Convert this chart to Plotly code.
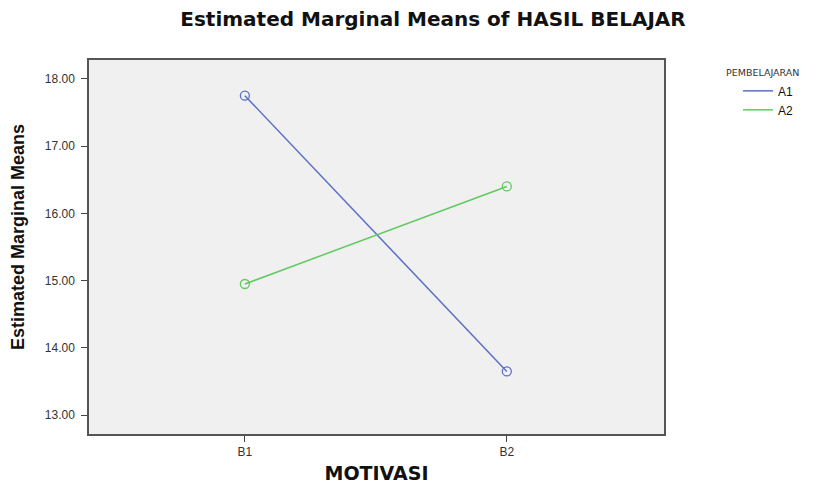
import plotly.graph_objects as go

categories = ["B1", "B2"]
a1_values = [17.75, 13.65]
a2_values = [14.95, 16.40]
y_ticks = [13, 14, 15, 16, 17, 18]
y_tick_labels = ["13.00", "14.00", "15.00", "16.00", "17.00", "18.00"]
series_names = ["A1", "A2"]
series_colors = ["#5a6fc6", "#5fca5f"]

x_pos = list(range(len(categories)))

# The page body has an 8px margin; the figure is sized to compensate.
W, H = 808, 476
L, R, T, B = 81, 152, 52, 50
plot_w = W - L - R
plot_h = H - T - B

fig = go.Figure()
for name, vals, col in zip(series_names, [a1_values, a2_values], series_colors):
    fig.add_trace(go.Scatter(
        x=x_pos, y=vals, name=name, mode="lines+markers", showlegend=False,
        line=dict(color=col, width=1.5),
        marker=dict(symbol="circle-open", size=9, color=col, line=dict(width=1.3)),
    ))
for name, col in zip(series_names, series_colors):
    fig.add_trace(go.Scatter(
        x=[None], y=[None], name=name, mode="lines",
        line=dict(color=col, width=1.5), showlegend=True,
    ))

fig.update_layout(
    width=W, height=H,
    margin=dict(l=L, r=R, t=T, b=B, autoexpand=False),
    paper_bgcolor="white",
    plot_bgcolor="#f0f0f0",
    font=dict(family="Liberation Sans, Arial, sans-serif", color="#222"),
    title=dict(text="<b>Estimated Marginal Means of HASIL BELAJAR</b>",
               x=425 / W, xanchor="center", y=1 - 11 / H, yanchor="middle",
               font=dict(size=20, color="#111", family="DejaVu Sans, sans-serif")),
    legend=dict(
        title=dict(text="PEMBELAJARAN", font=dict(size=9.5, color="#333", family="DejaVu Sans, sans-serif"), side="top"),
        x=(716 - L) / plot_w, xanchor="left", y=1 - (56 - T) / plot_h, yanchor="top",
        font=dict(size=12, color="#111"),
        bgcolor="rgba(0,0,0,0)", tracegroupgap=0,
        itemwidth=30, indentation=14,
    ),
    showlegend=True,
)

fig.update_xaxes(
    range=[-0.595, 1.6], tickvals=x_pos, ticktext=categories,
    ticks="outside", ticklen=6, tickcolor="#444", tickwidth=1,
    showgrid=False, zeroline=False, automargin=False,
    showline=True, linecolor="#555", linewidth=1.5, mirror=True,
    tickfont=dict(size=12, color="#333"),
    title=dict(text="<b>MOTIVASI</b>", font=dict(size=19, color="#111", family="DejaVu Sans, sans-serif"), standoff=12),
)
fig.update_yaxes(
    range=[12.72, 18.28], tickvals=y_ticks, ticktext=y_tick_labels,
    ticks="outside", ticklen=6, tickcolor="#444", tickwidth=1,
    ticklabelstandoff=4,
    showgrid=False, zeroline=False, automargin=False,
    showline=True, linecolor="#555", linewidth=1.5, mirror=True,
    tickfont=dict(size=12, color="#333"),
    title=dict(text="&nbsp;" * 4 + "<b>Estimated Marginal Means</b>",
               font=dict(size=18, color="#111", family="Liberation Sans Narrow, Arial Narrow, Liberation Sans, sans-serif"),
               standoff=18),
)

fig.write_html("out.html")
